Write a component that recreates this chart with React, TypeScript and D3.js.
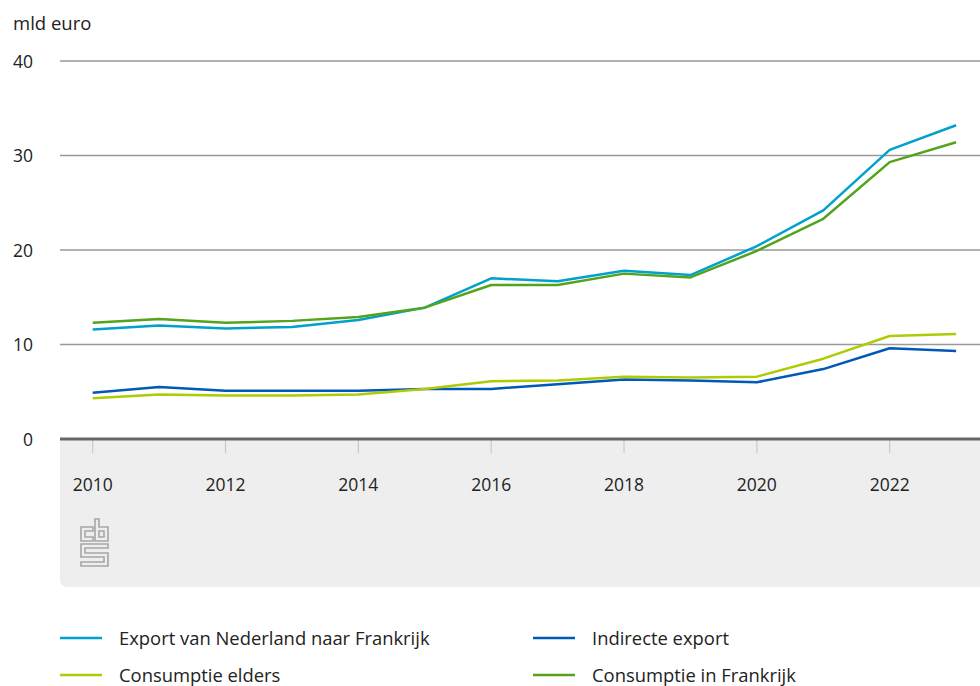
import { useEffect, useRef } from 'react';
import * as d3 from 'd3';

const years = [2010, 2011, 2012, 2013, 2014, 2015, 2016, 2017, 2018, 2019, 2020, 2021, 2022, 2023];
const exportNl = [11.6, 12.0, 11.7, 11.85, 12.6, 13.9, 17.0, 16.7, 17.8, 17.35, 20.4, 24.2, 30.6, 33.2];
const indirect = [4.9, 5.5, 5.1, 5.1, 5.1, 5.3, 5.3, 5.8, 6.3, 6.2, 6.0, 7.4, 9.6, 9.3];
const elsewhere = [4.3, 4.7, 4.6, 4.6, 4.7, 5.3, 6.1, 6.2, 6.6, 6.5, 6.6, 8.5, 10.9, 11.1];
const inFrance = [12.3, 12.7, 12.3, 12.5, 12.9, 13.9, 16.3, 16.3, 17.5, 17.1, 19.9, 23.3, 29.3, 31.4];
const yTicks = [0, 10, 20, 30, 40];
const xTicks = [2010, 2012, 2014, 2016, 2018, 2020, 2022];

const series = [
  { name: 'Export van Nederland naar Frankrijk', values: exportNl, color: '#00a1cd' },
  { name: 'Indirecte export', values: indirect, color: '#0058b8' },
  { name: 'Consumptie elders', values: elsewhere, color: '#afcb05' },
  { name: 'Consumptie in Frankrijk', values: inFrance, color: '#53a31d' },
];

const FONT = "'Open Sans', sans-serif";

export default function App() {
  const ref = useRef<SVGSVGElement | null>(null);

  useEffect(() => {
    const svg = d3.select(ref.current);
    svg.selectAll('*').remove();

    const left = 60, right = 980, top = 61, bottom = 439;
    const x = d3.scaleLinear().domain([2010, 2022]).range([92.7, 889.7]);
    const y = d3.scaleLinear().domain([0, 40]).range([bottom, top]);

    // grey panel under the axis
    svg.append('path')
      .attr('d', `M${left},${bottom} H${right} V587 H${left + 8} Q${left},587 ${left},579 Z`)
      .attr('fill', '#eeeeee');

    svg.append('text')
      .attr('x', 13).attr('y', 30)
      .attr('font-family', FONT).attr('font-size', 18.5).attr('fill', '#222')
      .text('mld euro');

    const gy = svg.append('g');
    yTicks.filter(t => t > 0).forEach(t => {
      gy.append('line')
        .attr('x1', left).attr('x2', right)
        .attr('y1', y(t)).attr('y2', y(t))
        .attr('stroke', '#999').attr('stroke-width', 1.3);
    });
    yTicks.forEach(t => {
      gy.append('text')
        .attr('x', 33).attr('y', y(t) + 6.5)
        .attr('text-anchor', 'end')
        .attr('font-family', FONT).attr('font-size', 17.5).attr('fill', '#222')
        .text(t);
    });

    const gx = svg.append('g');
    xTicks.forEach(t => {
      gx.append('line')
        .attr('x1', x(t)).attr('x2', x(t))
        .attr('y1', bottom).attr('y2', bottom + 14)
        .attr('stroke', '#c8c8c8').attr('stroke-width', 1.2);
      gx.append('text')
        .attr('x', x(t)).attr('y', 491)
        .attr('text-anchor', 'middle')
        .attr('font-family', FONT).attr('font-size', 17.5).attr('fill', '#222')
        .text(t);
    });

    svg.append('line')
      .attr('x1', left).attr('x2', right)
      .attr('y1', bottom).attr('y2', bottom)
      .attr('stroke', '#666').attr('stroke-width', 3);

    const line = d3.line<number>()
      .x((_, i) => x(years[i]))
      .y(d => y(d));

    series.forEach(s => {
      svg.append('path')
        .datum(s.values)
        .attr('fill', 'none')
        .attr('stroke', s.color)
        .attr('stroke-width', 2.5)
        .attr('stroke-linejoin', 'round')
        .attr('d', line);
    });

    // cbs logo
    const logo = svg.append('g')
      .attr('transform', 'translate(81,519)')
      .attr('fill', 'none').attr('stroke', '#a6a6a6').attr('stroke-width', 1.6);
    logo.append('path').attr('d', 'M12,8 H0 V22 H12 V18 H4 V12 H12 Z');
    logo.append('path').attr('d', 'M14,0 H18 V8 H27 V22 H14 Z M18,12 H23 V18 H18 Z');
    logo.append('path').attr('d', 'M0,25 H27 V29 H4 V34 H27 V47 H0 V43 H23 V38 H0 Z');

    // legend
    const legend = [
      { s: series[0], lx: 60, ly: 638 },
      { s: series[1], lx: 533, ly: 638 },
      { s: series[2], lx: 60, ly: 675 },
      { s: series[3], lx: 533, ly: 675 },
    ];
    legend.forEach(({ s, lx, ly }) => {
      svg.append('line')
        .attr('x1', lx).attr('x2', lx + 42)
        .attr('y1', ly).attr('y2', ly)
        .attr('stroke', s.color).attr('stroke-width', 2.5);
      svg.append('text')
        .attr('x', lx + 59).attr('y', ly + 6.5)
        .attr('font-family', FONT).attr('font-size', 18.4).attr('fill', '#222')
        .text(s.name);
    });
  }, []);

  return <svg ref={ref} width={980} height={686} style={{ position: 'absolute', left: 0, top: 0, display: 'block' }} />;
}
